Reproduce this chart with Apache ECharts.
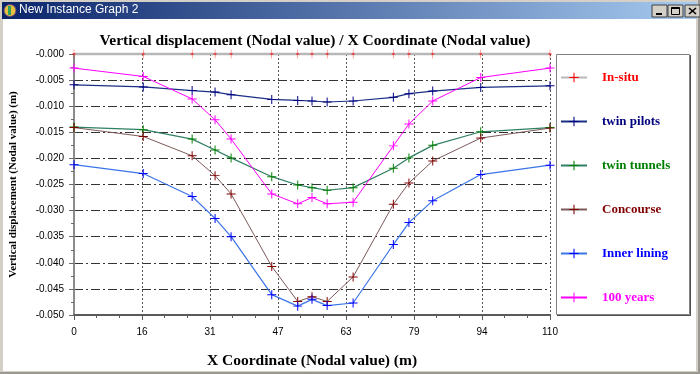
<!DOCTYPE html>
<html>
<head>
<meta charset="utf-8">
<script src="https://cdn.jsdelivr.net/npm/echarts@6/dist/echarts.min.js"></script>
<style>html,body{margin:0;padding:0;background:#fff;}#c{width:700px;height:374px;}</style>
</head>
<body>
<div id="c"></div>
<script>
// ---- data ----
const seriesNames = ['In-situ', 'twin pilots', 'twin tunnels', 'Concourse', 'Inner lining', '100 years'];
const xCoords = [0, 16, 27.3, 32.6, 36.3, 45.7, 51.7, 55, 58.5, 64.5, 73.8, 77.4, 82.9, 94, 110];
const inSitu = [0, 0, 0, 0, 0, 0, 0, 0, 0, 0, 0, 0, 0, 0, 0];
const twinPilots = [-0.0059, -0.0063, -0.0070, -0.0073, -0.0078, -0.0087, -0.0089, -0.0090, -0.0092, -0.0090, -0.0083, -0.0076, -0.0071, -0.0064, -0.0061];
const twinTunnels = [-0.0140, -0.0145, -0.0163, -0.0184, -0.0199, -0.0235, -0.0251, -0.0256, -0.0261, -0.0256, -0.0219, -0.0199, -0.0175, -0.0149, -0.0141];
const concourse = [-0.0141, -0.0158, -0.0195, -0.0233, -0.0268, -0.0407, -0.0474, -0.0465, -0.0474, -0.0427, -0.0288, -0.0247, -0.0205, -0.0161, -0.0142];
const innerLining = [-0.0212, -0.0229, -0.0273, -0.0315, -0.0350, -0.0461, -0.0483, -0.0470, -0.0482, -0.0477, -0.0365, -0.0323, -0.0281, -0.0231, -0.0213];
const years100 = [-0.0027, -0.0043, -0.0086, -0.0126, -0.0163, -0.0268, -0.0287, -0.0275, -0.0287, -0.0284, -0.0176, -0.0134, -0.0090, -0.0045, -0.0027];
const xTickLabels = ['0', '16', '31', '47', '63', '79', '94', '110'];
const yTickLabels = ['-0.050', '-0.045', '-0.040', '-0.035', '-0.030', '-0.025', '-0.020', '-0.015', '-0.010', '-0.005', '-0.000'];

const allValues = [inSitu, twinPilots, twinTunnels, concourse, innerLining, years100];
const lineColors = ['#b8b8b8', '#1a2f86', '#2f7f62', '#7d5a5a', '#3b74e6', '#ff00ff'];
const markColors = ['#ff0000', '#000080', '#008000', '#800000', '#0000ff', '#ff00ff'];
const textColors = ['#ff0000', '#000080', '#008000', '#800000', '#0000ff', '#ff00ff'];
const lineWidths = [2.5, 1.2, 1.2, 1, 1.2, 1];

const plus = 'path://M4.45,0h1.1v4.45h4.45v1.1h-4.45v4.45h-1.1v-4.45h-4.45v-1.1h4.45z';
const vbar = 'path://M4.45,0h1.1v4.45h4.45v1.1h-4.45v4.45h-1.1v-4.45h-4.45v-1.1h4.45z';
const serif = '"Liberation Serif", "Times New Roman", serif';
const sans = '"Liberation Sans", Arial, sans-serif';

const series = seriesNames.map((name, i) => ({
  name: name,
  type: 'line',
  data: xCoords.map((x, j) => [x, allValues[i][j]]),
  symbol: i === 0 ? vbar : plus,
  symbolSize: i === 0 ? [3, 9] : 9,
  symbolKeepAspect: false,
  showAllSymbol: true,
  clip: false,
  lineStyle: { color: lineColors[i], width: lineWidths[i] },
  itemStyle: { color: markColors[i] },
  emphasis: { disabled: true },
  animation: false,
  z: 3 + i
}));

const chart = echarts.init(document.getElementById('c'), null, { renderer: 'canvas' });
chart.setOption({
  backgroundColor: '#ffffff',
  animation: false,
  title: {
    text: 'Vertical displacement (Nodal value) / X Coordinate (Nodal value)',
    left: 310, top: 28, textAlign: 'center',
    textStyle: { fontFamily: serif, fontSize: 15.5, fontWeight: 'bold', color: '#000' }
  },
  grid: { left: 70, right: 150, top: 54, bottom: 59, containLabel: false },
  xAxis: {
    type: 'value', min: 0, max: 110, interval: 110 / 7,
    name: 'X Coordinate (Nodal value) (m)', nameLocation: 'middle', nameGap: 38,
    nameTextStyle: { fontFamily: serif, fontSize: 15.5, fontWeight: 'bold', color: '#000' },
    axisLine: { show: true, onZero: false, lineStyle: { color: '#5a5a5a', width: 2 } },
    axisTick: { show: true, length: 5, lineStyle: { color: '#5a5a5a', width: 1 } },
    minorTick: { show: true, splitNumber: 3, length: 3, lineStyle: { color: '#5a5a5a' } },
    axisLabel: { margin: 12, fontFamily: sans, fontSize: 10, color: '#000',
      formatter: (v, i) => xTickLabels[i] !== undefined ? xTickLabels[i] : String(Math.round(v)) },
    splitLine: { show: true, lineStyle: { color: '#555', width: 1, type: [2, 2] } }
  },
  yAxis: {
    type: 'value', min: -0.05, max: 0, interval: 0.005,
    name: 'Vertical displacement (Nodal value) (m)', nameLocation: 'middle', nameGap: 55,
    nameTextStyle: { fontFamily: serif, fontSize: 11, fontWeight: 'bold', color: '#000' },
    axisLine: { show: true, onZero: false, lineStyle: { color: '#8c8c8c', width: 2 } },
    axisTick: { show: true, length: 5, lineStyle: { color: '#6a6a6a', width: 1 } },
    minorTick: { show: true, splitNumber: 2, length: 3, lineStyle: { color: '#6a6a6a' } },
    axisLabel: { margin: 10, fontFamily: sans, fontSize: 10, color: '#000',
      formatter: (v, i) => yTickLabels[i] !== undefined ? yTickLabels[i] : '-' + Math.abs(v).toFixed(3) },
    splitLine: { show: true, lineStyle: { color: '#333', width: 1, type: [9, 3, 2, 3] } }
  },
  legend: {
    orient: 'vertical', left: 560, top: 71,
    itemWidth: 26, itemHeight: 12, itemGap: 31,
    padding: 0,
    selectedMode: false,
    textStyle: { fontFamily: serif, fontSize: 13, fontWeight: 'bold', padding: [0, 0, 0, 10] },
    data: seriesNames.map((n, i) => ({ name: n, textStyle: { color: textColors[i] } }))
  },
  graphic: [
    // window frame
    { type: 'rect', shape: { x: 0, y: 0, width: 700, height: 2 }, style: { fill: '#d4d0c8' }, silent: true },
    { type: 'rect', shape: { x: 0, y: 0, width: 3, height: 374 }, style: { fill: '#d4d0c8' }, silent: true },
    { type: 'rect', shape: { x: 696, y: 0, width: 4, height: 374 }, style: { fill: '#d4d0c8' }, silent: true },
    { type: 'rect', shape: { x: 0, y: 371, width: 700, height: 3 }, style: { fill: '#d4d0c8' }, silent: true },
    { type: 'rect', shape: { x: 0, y: 372, width: 700, height: 2 }, style: { fill: '#9a9890' }, silent: true },
    { type: 'rect', shape: { x: 698, y: 0, width: 2, height: 374 }, style: { fill: '#9a9890' }, silent: true },
    // title bar
    { type: 'rect', shape: { x: 2, y: 2, width: 695, height: 17 }, silent: true,
      style: { fill: { type: 'linear', x: 0, y: 0, x2: 1, y2: 0,
        colorStops: [{ offset: 0, color: '#0a246a' }, { offset: 1, color: '#a6caf0' }] } } },
    { type: 'circle', shape: { cx: 10, cy: 10.5, r: 6 }, style: { fill: '#e8c040', stroke: '#604080', lineWidth: 1 }, silent: true },
    { type: 'rect', shape: { x: 8, y: 6, width: 3, height: 9 }, style: { fill: '#30a060' }, silent: true },
    { type: 'text', x: 19, y: 4, silent: true,
      style: { text: 'New Instance Graph 2', fill: '#fff', font: '12px "Liberation Sans", Arial, sans-serif' } },
    // title bar buttons
    { type: 'rect', shape: { x: 652, y: 5, width: 15, height: 12 }, style: { fill: '#d4d0c8', stroke: '#404040', lineWidth: 1 }, silent: true },
    { type: 'rect', shape: { x: 656, y: 13, width: 6, height: 2 }, style: { fill: '#000' }, silent: true },
    { type: 'rect', shape: { x: 668, y: 5, width: 15, height: 12 }, style: { fill: '#d4d0c8', stroke: '#404040', lineWidth: 1 }, silent: true },
    { type: 'rect', shape: { x: 671.5, y: 7.5, width: 8, height: 7 }, style: { fill: 'none', stroke: '#000', lineWidth: 1 }, silent: true },
    { type: 'rect', shape: { x: 671.5, y: 7.5, width: 8, height: 1.5 }, style: { fill: '#000' }, silent: true },
    { type: 'rect', shape: { x: 685, y: 5, width: 15, height: 12 }, style: { fill: '#d4d0c8', stroke: '#404040', lineWidth: 1 }, silent: true },
    { type: 'line', shape: { x1: 689, y1: 8, x2: 696, y2: 14 }, style: { stroke: '#000', lineWidth: 1.6 }, silent: true },
    { type: 'line', shape: { x1: 696, y1: 8, x2: 689, y2: 14 }, style: { stroke: '#000', lineWidth: 1.6 }, silent: true },
    // legend box
    { type: 'rect', z: 1, shape: { x: 556.5, y: 54.5, width: 133, height: 260 }, style: { fill: '#fff', stroke: '#808080', lineWidth: 1 }, silent: true },
    { type: 'line', z: 1, shape: { x1: 690.5, y1: 55, x2: 690.5, y2: 316 }, style: { stroke: '#505050', lineWidth: 1 }, silent: true },
    { type: 'line', z: 1, shape: { x1: 557, y1: 315.5, x2: 691, y2: 315.5 }, style: { stroke: '#505050', lineWidth: 1 }, silent: true }
  ],
  series: series
});
</script>
</body>
</html>
